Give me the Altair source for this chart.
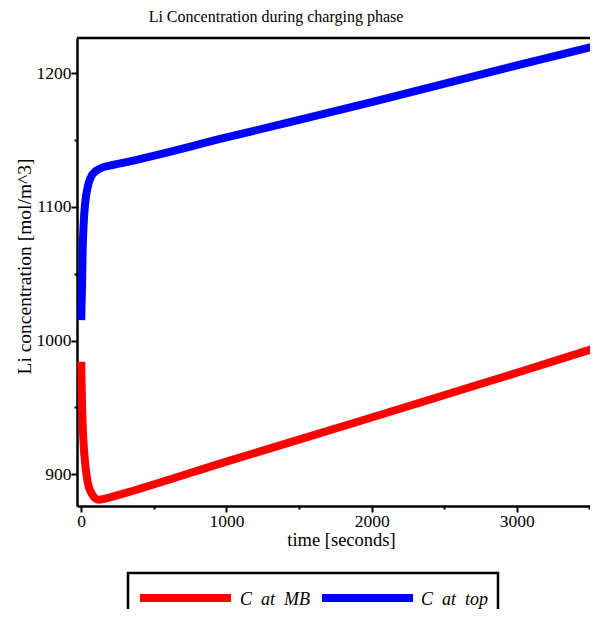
import altair as alt
import pandas as pd

# ---- data ----
series_names = ["C\u00a0\u00a0at\u00a0\u00a0MB", "C\u00a0\u00a0at\u00a0\u00a0top"]
series_colors = ["#ff0000", "#0000ff"]

t_mb = [0, 6, 15, 27, 45, 75, 120, 171, 240, 320, 1000, 2000, 3000, 3600]
c_mb = [984.1, 950.4, 925.5, 908.1, 894.0, 885.0, 881.0, 882.0, 884.0, 886.5, 909.5, 942.5, 976.0, 996.5]

t_top = [0, 6, 10, 17, 27, 45, 68, 103, 148, 217, 320, 1000, 2000, 3000, 3600]
c_top = [1015.3, 1042.8, 1067.7, 1087.7, 1102.7, 1115.1, 1122.6, 1127.1, 1129.6, 1131.4, 1133.8, 1152.0, 1178.5, 1206.0, 1222.0]

x_ticks = [0, 500, 1000, 1500, 2000, 2500, 3000, 3500]
y_ticks = [900, 950, 1000, 1050, 1100, 1150, 1200]

title_text = "Li Concentration during charging phase"
x_title = "time [seconds]"
y_title = "Li concentration [mol/m^3]"

rows = []
for t, c in zip(t_mb, c_mb):
    rows.append({"series": series_names[0], "t": t, "c": c})
for t, c in zip(t_top, c_top):
    rows.append({"series": series_names[1], "t": t, "c": c})
df = pd.DataFrame(rows)

FONT = "Liberation Serif"
W, H = 513, 468

lines = alt.Chart(df).mark_line(strokeWidth=8, interpolate="monotone", strokeCap="butt").encode(
    x=alt.X("t:Q",
            scale=alt.Scale(domain=[-29, 3600], range=[0, 527], nice=False, zero=False),
            axis=alt.Axis(values=x_ticks, format="d", title=x_title,
                          labelExpr="datum.value % 1000 === 0 ? datum.label : ''",
                          tickSize={"condition": {"test": "datum.value % 1000 === 0", "value": 6}, "value": 3},
                          labelPadding=0, titleX=264, titleY=39, titleBaseline="alphabetic",
                          titleAlign="center", grid=False)),
    y=alt.Y("c:Q",
            scale=alt.Scale(domain=[876.3, 1226.4], nice=False, zero=False),
            axis=alt.Axis(values=y_ticks, format="d", title=y_title,
                          labelExpr="datum.value % 100 === 0 ? datum.label : ''",
                          tickSize={"condition": {"test": "datum.value % 100 === 0", "value": 6}, "value": 3},
                          labelPadding=0, titleX=-53, titleY=228, titleAngle=270, titleFontSize=19.5,
                          titleBaseline="middle", titleAlign="center", grid=False)),
    color=alt.Color("series:N",
                    scale=alt.Scale(domain=series_names, range=series_colors),
                    legend=None),
    order=alt.Order("t:Q"),
)

one = pd.DataFrame({"k": [0]})
top_border = alt.Chart(one).mark_rule(strokeWidth=2.5, color="black").encode(
    x=alt.value(0), x2=alt.value(560), y=alt.value(0))
title_mark = alt.Chart(pd.DataFrame({"label": [title_text]})).mark_text(
    font=FONT, fontSize=16, color="black", align="center", baseline="alphabetic").encode(
    text="label:N", x=alt.value(199), y=alt.value(-16))

# ---- legend (drawn below the plot, box clipped by the page bottom as in the reference) ----
legend_box = alt.Chart(one).mark_rect(fillOpacity=0, stroke="black", strokeWidth=2.5).encode(
    x=alt.value(51), x2=alt.value(421), y=alt.value(535), y2=alt.value(640))
legend_layers = [legend_box]
sym_x = [63, 245]
lab_x = [163, 344]
for name, col, sx, lx in zip(series_names, series_colors, sym_x, lab_x):
    d = pd.DataFrame({"label": [name]})
    legend_layers.append(
        alt.Chart(d).mark_rule(strokeWidth=8, color=col, strokeCap="butt").encode(
            x=alt.value(sx), x2=alt.value(sx + 91), y=alt.value(560)))
    legend_layers.append(
        alt.Chart(d).mark_text(font=FONT, fontSize=18, fontStyle="italic", color="black",
                               align="left", baseline="alphabetic").encode(
            text="label:N", x=alt.value(lx), y=alt.value(566.5)))

chart = alt.layer(top_border, title_mark, lines, *legend_layers).properties(
    width=W, height=H,
    padding={"left": 69, "top": 30, "right": 0, "bottom": 103},
    autosize=alt.AutoSizeParams(type="none"),
).configure_view(stroke=None).configure_axis(
    labelFont=FONT, titleFont=FONT, labelFontSize=17.5, titleFontSize=18.5, titleFontWeight="normal",
    labelColor="black", titleColor="black", domainColor="black", tickColor="black",
    domainWidth=2.5, tickWidth=2,
)

chart.save("out.html", embed_options={"renderer": "svg", "actions": False})
